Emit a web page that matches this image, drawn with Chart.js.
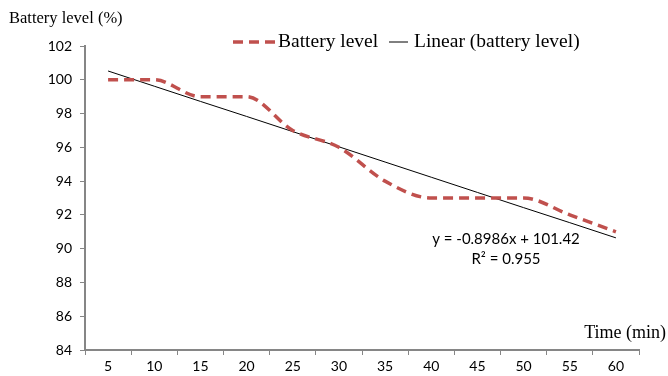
<!DOCTYPE html>
<html>
<head>
<meta charset="utf-8">
<script src="https://cdn.jsdelivr.net/npm/chart.js@4/dist/chart.umd.min.js"></script>
<style>
html,body{margin:0;padding:0;background:#fff;}
#wrap{width:668px;height:376px;}
</style>
</head>
<body>
<div id="wrap"><canvas id="showchart" width="668" height="376"></canvas></div>
<script>
var timeLabels=["5","10","15","20","25","30","35","40","45","50","55","60"];
var batteryLevel=[100,100,99,99,97,96,94,93,93,93,92,91];
// trend line values (y = -0.8986x + 101.42)
var linearLevel=[100.52,99.62,98.72,97.83,96.93,96.03,95.13,94.23,93.33,92.43,91.54,90.64];
var yTicks=[84,86,88,90,92,94,96,98,100,102];
var equationText=["y = -0.8986x + 101.42","R\u00b2 = 0.955"];

var axisGrey='#868686';
var red='#C0504D';
var serif='"Liberation Serif", "Times New Roman", serif';
var sans='Lato, "Open Sans", sans-serif';

var textPlugin={
	id:'texts',
	afterDraw:function(chart){
		var c=chart.ctx;
		c.save();
		c.fillStyle='#000';
		c.textBaseline='middle';
		c.font='16.5px '+serif;
		c.textAlign='left';
		c.fillText('Battery level (%)',9,19);
		c.font='18px '+serif;
		c.textAlign='right';
		c.fillText('Time (min)',666,333);
		// legend
		c.font='19.5px '+serif;
		c.textAlign='left';
		c.strokeStyle=red;
		c.lineWidth=3.5;
		c.setLineDash([10,6]);
		c.beginPath();c.moveTo(233,42);c.lineTo(275,42);c.stroke();
		c.setLineDash([]);
		c.fillText('Battery level',278,42);
		c.strokeStyle='#000';
		c.lineWidth=1;
		c.beginPath();c.moveTo(389,42);c.lineTo(408,42);c.stroke();
		c.fillText('Linear (battery level)',414,42);
		// equation
		c.font='15px '+sans;
		c.textAlign='center';
		c.fillText(equationText[0],506,239);
		c.fillText(equationText[1],506,259);
		c.restore();
	}
};

var ctx=document.getElementById('showchart');
var lineGraph=new Chart(ctx,{
	type:'line',
	data:{
		labels:timeLabels,
		datasets:[
		{
			label:'Battery level',
			data:batteryLevel,
			borderColor:red,
			borderWidth:3.5,
			borderDash:[10,6],
			cubicInterpolationMode:'monotone',
			pointRadius:0,
			fill:false
		},
		{
			label:'Linear (battery level)',
			data:linearLevel,
			borderColor:'#000',
			borderWidth:1,
			pointRadius:0,
			fill:false
		}
		]
	},
	options:{
		responsive:false,
		animation:false,
		layout:{padding:{top:46,right:29,bottom:0,left:0}},
		plugins:{legend:{display:false},tooltip:{enabled:false}},
		scales:{
			x:{
				offset:true,
				grid:{offset:true,display:true,drawOnChartArea:false,drawTicks:true,tickLength:5,color:axisGrey},
				border:{color:axisGrey,width:2},
				ticks:{color:'#000',padding:3,maxRotation:0,font:{family:sans,size:14}},
				afterFit:function(s){s.height=26;}
			},
			y:{
				min:84,max:102,
				afterBuildTicks:function(s){s.ticks=yTicks.map(function(v){return {value:v};});},
				grid:{display:true,drawOnChartArea:false,drawTicks:true,tickLength:5,color:axisGrey},
				border:{color:axisGrey,width:2},
				ticks:{color:'#000',padding:8,font:{family:sans,size:14}},
				afterFit:function(s){s.width=85;}
			}
		}
	},
	plugins:[textPlugin]
});
</script>
</body>
</html>
